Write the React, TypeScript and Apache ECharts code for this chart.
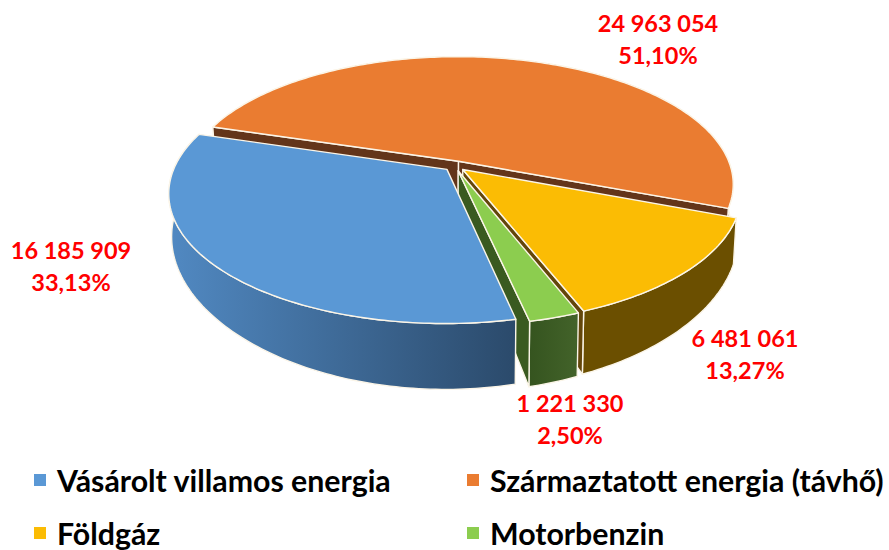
import React, { useEffect, useRef } from "react";
import * as echarts from "echarts";

const categories = ["Vásárolt villamos energia", "Származtatott energia (távhő)", "Földgáz", "Motorbenzin"];
const values = [16185909, 24963054, 6481061, 1221330];
const topColors = ["#5a98d5", "#ea7c31", "#fbbc04", "#8ccd4f"];

const wallColors: any[] = [
  new echarts.graphic.LinearGradient(0, 0, 1, 0, [
    { offset: 0, color: "#5189c2" },
    { offset: 1, color: "#2b4a6b" },
  ]),
  "#63351a",
  "#6b4f00",
  new echarts.graphic.LinearGradient(0, 0, 1, 0, [
    { offset: 0, color: "#35541f" },
    { offset: 1, color: "#43632a" },
  ]),
];
const faceColors = ["#2b4a6b", "#63351a", "#63460a", "#3a5a20"];

// drawing geometry
const CX = 455, CY = 166, A = 272, B = 125, K = 0.18, EXPLODE = 0.04;
const H0 = 39.5, K2 = 0.39, BOTTOM_SHRINK = 0.99;
const START_ANGLE = 287 - (values[0] / values.reduce((s, v) => s + v, 0)) * 360; // blue begins here, clockwise from top
const DRAW_ORDER = [1, 2, 3, 0];
const LABEL_CENTERS = [[71, 266], [658, 39], [745, 354], [570, 419]];
const LEGEND_SPOTS = [[34, 465], [467, 465], [34, 518], [467, 518]];

const total = values.reduce((s, v) => s + v, 0);
const rad = (d: number) => (d * Math.PI) / 180;
const fmtVal = (v: number) => String(v).replace(/\B(?=(\d{3})+(?!\d))/g, " ");
const fmtPct = (v: number) => ((v / total) * 100).toFixed(2).replace(".", ",") + "%";

function angles(i: number) {
  let a = START_ANGLE;
  for (let j = 0; j < i; j++) a += (values[j] / total) * 360;
  return [a, a + (values[i] / total) * 360];
}

function project(u: number, v: number, bottom: boolean): number[] {
  const w = 1 + K * v;
  let x = CX + (A * u) / w;
  let y = CY - (B * v) / w;
  if (bottom) {
    x = CX + (x - CX) * BOTTOM_SHRINK;
    y += H0 / (1 + K2 * v);
  }
  return [x, y];
}

function renderSlice(i: number) {
  const [a0, a1] = angles(i);
  const mid = (a0 + a1) / 2;
  const u0 = EXPLODE * Math.sin(rad(mid));
  const v0 = EXPLODE * Math.cos(rad(mid));
  const rim = (t: number, bottom: boolean) => project(u0 + Math.sin(rad(t)), v0 + Math.cos(rad(t)), bottom);
  const arcTop: number[][] = [];
  const arcBottom: number[][] = [];
  const n = Math.max(4, Math.ceil(a1 - a0));
  for (let s = 0; s <= n; s++) {
    const t = a0 + ((a1 - a0) * s) / n;
    arcTop.push(rim(t, false));
    arcBottom.push(rim(t, true));
  }
  const apexT = project(u0, v0, false);
  const apexB = project(u0, v0, true);
  const stroke = { stroke: "#fbf5e8", lineWidth: 1.4, lineJoin: "round" };
  const poly = (points: number[][], fill: any) => ({
    type: "polygon",
    shape: { points },
    style: { fill, ...stroke },
    silent: true,
  });
  const children: any[] = [poly([...arcTop, ...arcBottom.slice().reverse()], wallColors[i])];
  // only the cut faces that turn toward the viewer are drawn
  if (Math.sin(rad(a0)) < 0) children.push(poly([apexT, arcTop[0], arcBottom[0], apexB], faceColors[i]));
  if (Math.sin(rad(a1)) > 0) children.push(poly([apexT, arcTop[n], arcBottom[n], apexB], faceColors[i]));
  children.push(poly([apexT, ...arcTop], topColors[i]));
  return { type: "group", children };
}

function renderLabel(i: number) {
  return {
    type: "text",
    silent: true,
    style: {
      x: LABEL_CENTERS[i][0],
      y: LABEL_CENTERS[i][1],
      text: `${fmtVal(values[i])}\n${fmtPct(values[i])}`,
      align: "center",
      verticalAlign: "middle",
      fill: "#ff0000",
      font: 'bold 23.5px Lato, "Noto Sans", sans-serif',
      lineHeight: 32,
    },
  };
}

export default function App() {
  const ref = useRef<HTMLDivElement>(null);
  useEffect(() => {
    document.body.style.margin = "0";
    const chart = echarts.init(ref.current!, undefined, { renderer: "svg" });
    chart.setOption({
      animation: false,
      backgroundColor: "#ffffff",
      legend: categories.map((name, i) => ({
        left: LEGEND_SPOTS[i][0],
        top: LEGEND_SPOTS[i][1],
        padding: 0,
        itemWidth: 12,
        itemHeight: 12,
        icon: "rect",
        selectedMode: false,
        data: [name],
        textStyle: {
          color: "#000",
          fontFamily: 'Lato, "Noto Sans", sans-serif',
          fontWeight: "bold",
          fontSize: 30.3,
          padding: [0, 0, 0, 6],
        },
      })),
      series: DRAW_ORDER.map((i) => ({
        type: "custom",
        name: categories[i],
        coordinateSystem: "none",
        silent: true,
        itemStyle: { color: topColors[i] },
        data: [values[i]],
        renderItem: () => ({ type: "group", children: [renderSlice(i), renderLabel(i)] }),
      })),
    });
    return () => chart.dispose();
  }, []);
  return <div ref={ref} style={{ width: 889, height: 550, position: "absolute", left: 0, top: 0 }} />;
}
